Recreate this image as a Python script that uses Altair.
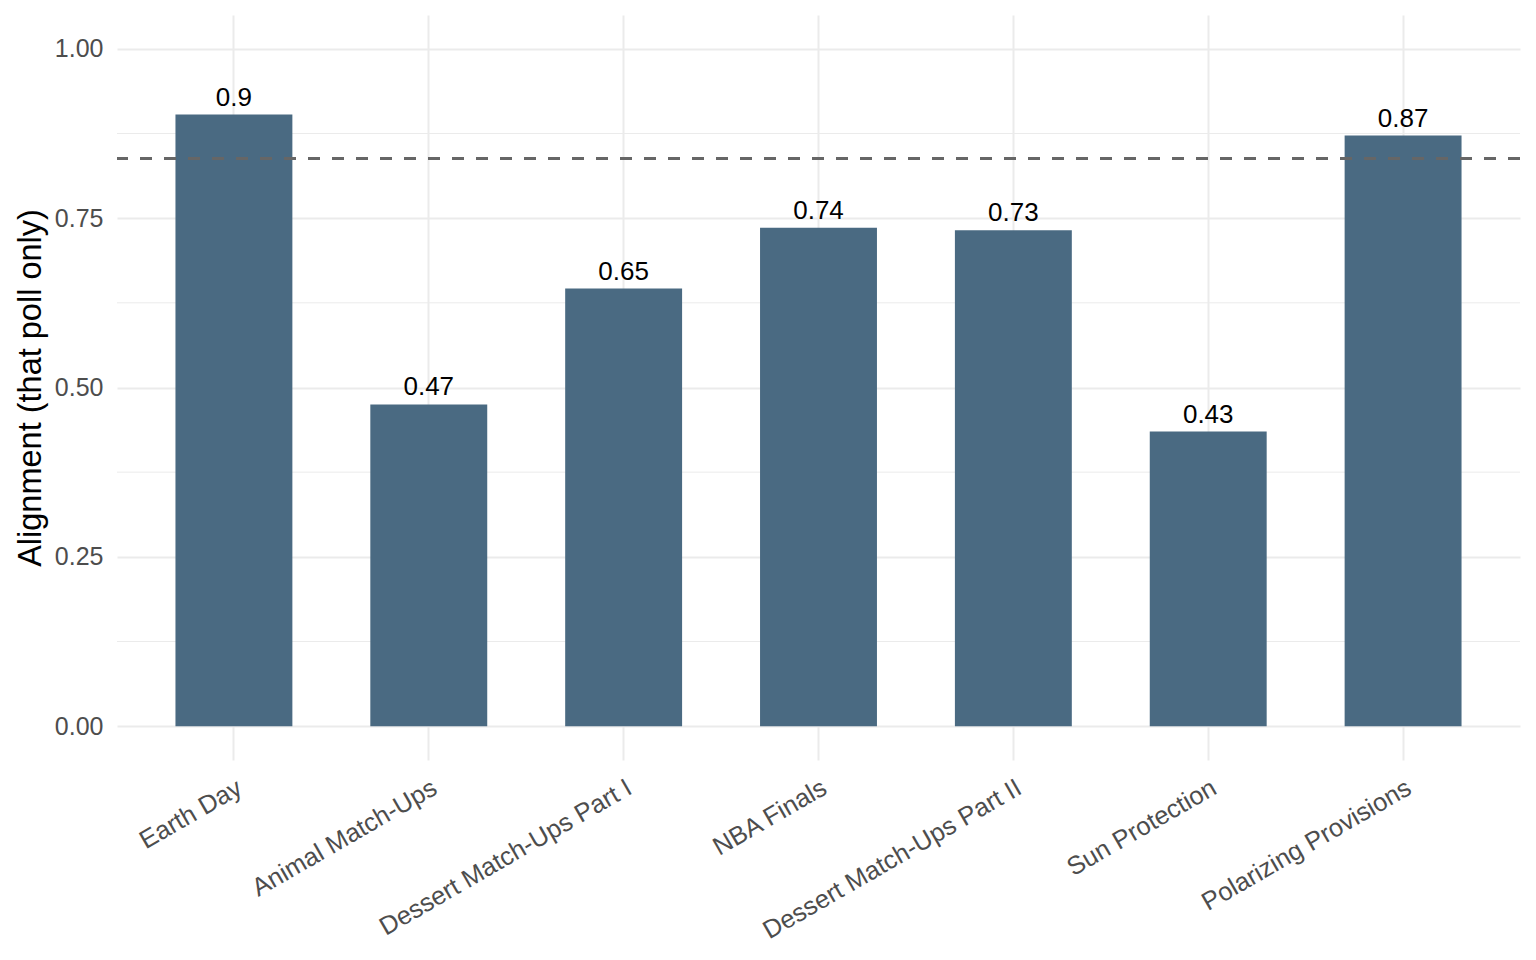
import altair as alt
import pandas as pd

polls = ["Earth Day", "Animal Match-Ups", "Dessert Match-Ups Part I", "NBA Finals",
         "Dessert Match-Ups Part II", "Sun Protection", "Polarizing Provisions"]
alignment = [0.903, 0.475, 0.646, 0.736, 0.732, 0.435, 0.872]
labels = ["0.9", "0.47", "0.65", "0.74", "0.73", "0.43", "0.87"]
reference_line = [0.838]
minor_grid = [0.125, 0.375, 0.625, 0.875]
major_ticks = [0, 0.25, 0.5, 0.75, 1.0]

df = pd.DataFrame({"poll": polls, "alignment": alignment, "label": labels})
ref = pd.DataFrame({"y": reference_line})
minor = pd.DataFrame({"y": minor_grid})

FONT = "Liberation Sans"

x_enc = alt.X("poll:N", sort=polls, title=None,
              scale=alt.Scale(paddingInner=0.4, paddingOuter=0.3),
              axis=alt.Axis(labelAngle=-30, labelAlign="right", labelBaseline="top",
                            labelPadding=15, labelFontSize=25.5, labelColor="#4D4D4D",
                            labelLimit=0, labelOverlap=False,
                            ticks=False, domain=False, grid=True, bandPosition=0.5,
                            gridColor="#EBEBEB", gridWidth=2, labelFont=FONT))

y_scale = alt.Scale(domain=[-0.05, 1.05], nice=False, zero=False)

minor_rules = alt.Chart(minor).mark_rule(color="#EBEBEB", strokeWidth=1).encode(
    y=alt.Y("y:Q", scale=y_scale)
)

bars = alt.Chart(df).mark_bar(color="#4A6A82").encode(
    x=x_enc,
    y=alt.Y("alignment:Q", scale=y_scale, title="Alignment (that poll only)",
            axis=alt.Axis(values=major_ticks, format=".2f", ticks=False, domain=False,
                          labelPadding=14, labelFontSize=25, labelColor="#4D4D4D",
                          labelFont=FONT, gridColor="#EBEBEB", gridWidth=2,
                          titleFontSize=32.5, titleFont=FONT, titleFontWeight="normal",
                          titleColor="#000000", titleX=-87, titleBaseline="middle")),
    y2=alt.datum(0),
)

text = alt.Chart(df).mark_text(baseline="alphabetic", dy=-9, fontSize=26, font=FONT,
                               color="#000000").encode(
    x=alt.X("poll:N", sort=polls),
    y=alt.Y("alignment:Q", scale=y_scale),
    text="label:N",
)

dashed = alt.Chart(ref).mark_rule(color="#666666", strokeWidth=3,
                                  strokeDash=[12, 12]).encode(
    y=alt.Y("y:Q", scale=y_scale)
)

chart = alt.layer(minor_rules, bars, dashed, text).properties(
    width=1403, height=745,
    autosize=alt.AutoSizeParams(type="none"),
    padding={"left": 109, "top": 7, "right": 8, "bottom": 185},
    background="white",
).configure(font=FONT).configure_view(strokeWidth=0, stroke=None)

chart.save("out.html", embed_options={"renderer": "svg", "actions": False})
